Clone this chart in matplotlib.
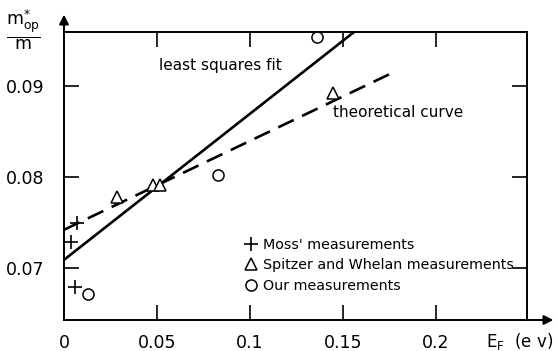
import numpy as np
import matplotlib
matplotlib.use('Agg')
import matplotlib.pyplot as plt
from matplotlib.lines import Line2D

# Moss' measurements (+)
moss_x = [0.007, 0.004, 0.006]
moss_y = [0.0749, 0.0729, 0.0679]
# Spitzer and Whelan (triangles)
sw_x = [0.0285, 0.048, 0.0515, 0.1446]
sw_y = [0.0778, 0.0791, 0.0791, 0.0892]
# our measurements (circles)
our_x = [0.013, 0.083, 0.136]
our_y = [0.0671, 0.0802, 0.0954]

# least squares fit and theoretical curve (end points)
fit_x = [0.0, 0.156]
fit_y = [0.0709, 0.0959]
theo_x = [0.0, 0.1774]
theo_y = [0.0742, 0.0915]

xticks = [0, 0.05, 0.1, 0.15, 0.2]
xticklabels = ['0', '0.05', '0.1', '0.15', '0.2']
yticks = [0.07, 0.08, 0.09]
yticklabels = ['0.07', '0.08', '0.09']


def main():
    plt.rcParams['font.family'] = 'DejaVu Sans'
    plt.rcParams['mathtext.default'] = 'regular'
    fig = plt.figure(figsize=(5.58, 3.51), dpi=100)
    ax = fig.add_axes([64 / 558, 31 / 351, 463 / 558, 288 / 351])

    ax.plot(fit_x, fit_y, 'k-', lw=1.9, solid_capstyle='butt')
    ax.plot(theo_x, theo_y, 'k--', lw=1.9, dashes=(6.5, 3.5))

    ax.plot(moss_x, moss_y, 'k+', ms=10, mew=1.2, clip_on=False)
    ax.plot(sw_x, sw_y, '^', mfc='white', mec='k', ms=8, mew=1.1)
    ax.plot(our_x, our_y, 'o', mfc='white', mec='k', ms=8, mew=1.1)

    ax.set_xlim(0, 0.249)
    ax.set_ylim(0.0643, 0.0959)
    ax.set_xticks(xticks)
    ax.set_xticklabels(xticklabels)
    ax.set_yticks(yticks)
    ax.set_yticklabels(yticklabels)
    ax.tick_params(direction='in', length=11, width=1.2, top=True, right=True,
                   labelsize=12.5)
    ax.tick_params(axis='x', pad=10)
    ax.tick_params(axis='y', pad=14)
    t0 = ax.xaxis.get_major_ticks()[0]
    t0.tick1line.set_visible(False)
    t0.tick2line.set_visible(False)
    for s in ax.spines.values():
        s.set_linewidth(1.4)

    # axis arrows
    ax.annotate('', xy=(0, 1.07), xytext=(0, 0.99), xycoords='axes fraction',
                arrowprops=dict(arrowstyle='-|>', lw=1.4, color='k',
                                mutation_scale=14), annotation_clip=False)
    ax.annotate('', xy=(1.063, 0), xytext=(0.99, 0), xycoords='axes fraction',
                arrowprops=dict(arrowstyle='-|>', lw=1.4, color='k',
                                mutation_scale=14), annotation_clip=False)

    fig.text(23 / 558, 1 - 30 / 351, r'$\frac{m^{*}_{op}}{m}$', fontsize=18,
             ha='center', va='center')
    fig.text(486 / 558, 1 - 342 / 351, r'E$_F$  (e v)', fontsize=12,
             ha='left', va='center')

    ax.text(0.051, 0.0922, 'least squares fit', fontsize=11, va='center')
    ax.text(0.1446, 0.0871, 'theoretical curve', fontsize=11, va='center')

    handles = [
        Line2D([], [], ls='none', marker='+', color='k', ms=10, mew=1.2),
        Line2D([], [], ls='none', marker='^', mfc='white', mec='k', ms=8, mew=1.1),
        Line2D([], [], ls='none', marker='o', mfc='white', mec='k', ms=8, mew=1.1),
    ]
    labels = ["Moss' measurements", 'Spitzer and Whelan measurements',
              'Our measurements']
    ax.legend(handles, labels, loc='lower left', frameon=False, fontsize=10.3,
              bbox_to_anchor=(0.375, 0.07), handlelength=0.8,
              handletextpad=0.5, labelspacing=0.45, borderpad=0)

    fig.savefig('out.png', dpi=100)


if __name__ == '__main__':
    main()
